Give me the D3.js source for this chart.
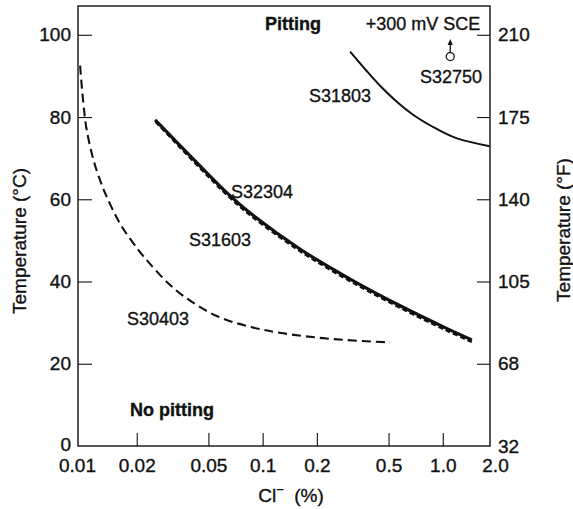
<!DOCTYPE html>
<html>
<head>
<meta charset="utf-8">
<script src="https://cdn.jsdelivr.net/npm/d3@7/dist/d3.min.js"></script>
<style>
  html, body { margin: 0; padding: 0; background: #fff; }
  svg { display: block; }
  text { font-family: "Liberation Sans", Arial, Helvetica, sans-serif; fill: #111; stroke: #111; stroke-width: 0.35px; }
</style>
</head>
<body>
<svg id="chart" width="573" height="509"></svg>
<script>
// Critical pitting temperature vs. chloride content for stainless grades

// Chloride axis ticks (%)
const clTicks = [0.01, 0.02, 0.05, 0.1, 0.2, 0.5, 1, 2];
const clTickLabels = ["0.01", "0.02", "0.05", "0.1", "0.2", "0.5", "1.0", "2.0"];

// Temperature ticks, Celsius on the left and matching Fahrenheit on the right
const tempTicksC = [0, 20, 40, 60, 80, 100];
const tempTickLabelsF = ["32", "68", "105", "140", "175", "210"];

// S30403 (dashed)
const s30403Cl   = [0.0097, 0.0101, 0.01055, 0.0115, 0.0125, 0.0136, 0.0162, 0.0204, 0.0237, 0.0294, 0.0363, 0.0556, 0.085, 0.13, 0.247, 0.51];
const s30403Temp = [92.5, 83.5, 76.9, 69.6, 64.7, 60.7, 54.0, 47.7, 44.3, 39.9, 36.5, 31.6, 29.0, 27.4, 26.0, 25.2];

// S32304 (heavy solid)
const s32304Cl   = [0.0253, 0.0449, 0.0643, 0.085, 0.161, 0.306, 0.58, 1.05, 1.45];
const s32304Temp = [79.3, 68.1, 61.3, 56.7, 47.9, 40.6, 34.1, 28.6, 25.8];

// S31603 (dashed, running just under S32304)
const s31603Cl   = [0.0255, 0.0449, 0.0643, 0.085, 0.161, 0.306, 0.58, 1.05, 1.45];
const s31603Temp = [78.8, 67.6, 60.8, 56.2, 47.4, 40.1, 33.6, 28.1, 25.3];

// S31803 (solid)
const s31803Cl   = [0.306, 0.378, 0.449, 0.556, 0.687, 0.926, 1.2, 1.82];
const s31803Temp = [95.9, 91.2, 87.6, 83.7, 80.5, 77.1, 74.8, 72.9];

// S32750: single point, no pitting up to +300 mV SCE
const s32750Cl   = [1.1];
const s32750Temp = [94.7];
const s32750ArrowTop = [99];

const svg = d3.select("#chart");
const FS = 18;    // annotation text
const TFS = 19;   // tick labels and axis titles

// Plot frame
const frame = { left: 78, right: 490, top: 6, bottom: 446 };

const x = d3.scaleLog().domain([0.01, 2]).range([82.5, 497]);
const y = d3.scaleLinear().domain([0, 107]).range([446, 6]);

// Frame
svg.append("rect")
  .attr("x", frame.left).attr("y", frame.top)
  .attr("width", frame.right - frame.left)
  .attr("height", frame.bottom - frame.top)
  .attr("fill", "none").attr("stroke", "#111").attr("stroke-width", 1.4);

// Left axis (°C)
const leftAxis = svg.append("g")
  .attr("transform", `translate(${frame.left},0)`)
  .call(d3.axisLeft(y).tickValues(tempTicksC).tickSizeInner(-14).tickSizeOuter(0).tickPadding(7));

// Right axis (°F)
const rightAxis = svg.append("g")
  .attr("transform", `translate(${frame.right},0)`)
  .call(d3.axisRight(y).tickValues(tempTicksC)
    .tickFormat((d, i) => tempTickLabelsF[i])
    .tickSizeInner(-13).tickSizeOuter(0).tickPadding(8));

// Bottom axis (Cl-)
const bottomAxis = svg.append("g")
  .attr("transform", `translate(0,${frame.bottom})`)
  .call(d3.axisBottom(x).tickValues(clTicks)
    .tickFormat((d, i) => clTickLabels[i])
    .tickSizeInner(-13).tickSizeOuter(0).tickPadding(12.5));

[leftAxis, rightAxis, bottomAxis].forEach(g => {
  g.select(".domain").remove();
  g.selectAll(".tick line").attr("stroke", "#111").attr("stroke-width", 1.1);
  g.selectAll(".tick text")
    .attr("font-size", TFS)
    .attr("font-family", "'Liberation Sans', Arial, sans-serif")
    .attr("fill", "#111");
});

// End ticks coincide with the frame
bottomAxis.selectAll(".tick").filter(d => d === 0.01 || d === 2).select("line").remove();
bottomAxis.selectAll(".tick").filter(d => d === 0.01).select("text").attr("dx", -5.5);
bottomAxis.selectAll(".tick").filter(d => d === 2).select("text").attr("dx", -2);
leftAxis.selectAll(".tick").filter(d => d === 0).select("line").remove();
rightAxis.selectAll(".tick").filter(d => d === 0).select("line").remove();
// Lift the corner "0" clear of the "0.01" label below it
leftAxis.selectAll(".tick").filter(d => d === 0).select("text").attr("y", -2);

// Curves
const line = d3.line()
  .x(d => x(d[0]))
  .y(d => y(d[1]))
  .curve(d3.curveCatmullRom.alpha(0.5));

const zip = (a, b) => a.map((v, i) => [v, b[i]]);

svg.append("path")
  .datum(zip(s30403Cl, s30403Temp))
  .attr("d", line)
  .attr("fill", "none").attr("stroke", "#111")
  .attr("stroke-width", 2.1).attr("stroke-dasharray", "9,5");

svg.append("path")
  .datum(zip(s31603Cl, s31603Temp))
  .attr("d", line)
  .attr("fill", "none").attr("stroke", "#111")
  .attr("stroke-width", 2.4).attr("stroke-dasharray", "5,3");

svg.append("path")
  .datum(zip(s32304Cl, s32304Temp))
  .attr("d", line)
  .attr("fill", "none").attr("stroke", "#111")
  .attr("stroke-width", 3.2).attr("stroke-linecap", "butt");

svg.append("path")
  .datum(zip(s31803Cl, s31803Temp))
  .attr("d", line)
  .attr("fill", "none").attr("stroke", "#111")
  .attr("stroke-width", 2);

// S32750 point with arrow
const px = x(s32750Cl[0]), py = y(s32750Temp[0]), pTop = y(s32750ArrowTop[0]);
svg.append("line")
  .attr("x1", px).attr("x2", px)
  .attr("y1", py - 4).attr("y2", pTop + 4)
  .attr("stroke", "#111").attr("stroke-width", 1.3);
svg.append("path")
  .attr("d", `M${px},${pTop} L${px - 2.6},${pTop + 6} L${px + 2.6},${pTop + 6} Z`)
  .attr("fill", "#111");
svg.append("circle")
  .attr("cx", px).attr("cy", py).attr("r", 4)
  .attr("fill", "#fff").attr("stroke", "#111").attr("stroke-width", 1.3);

// Curve labels and region notes
const notes = [
  { t: "+300 mV SCE", x: 423, y: 30, bold: false },
  { t: "Pitting", x: 293, y: 30, bold: true },
  { t: "S32750", x: 451, y: 83, bold: false },
  { t: "S31803", x: 340, y: 102, bold: false },
  { t: "S32304", x: 262, y: 198, bold: false },
  { t: "S31603", x: 220, y: 246, bold: false },
  { t: "S30403", x: 158, y: 325, bold: false },
  { t: "No pitting", x: 172, y: 416, bold: true }
];
svg.selectAll("text.note")
  .data(notes)
  .join("text")
  .attr("class", "note")
  .attr("x", d => d.x).attr("y", d => d.y)
  .attr("text-anchor", "middle")
  .attr("font-size", FS)
  .attr("font-weight", d => d.bold ? "bold" : "normal")
  .text(d => d.t);

// Axis titles
svg.append("text")
  .attr("transform", "translate(19.5,241) rotate(-90)")
  .attr("text-anchor", "middle").attr("dy", "0.35em")
  .attr("font-size", TFS)
  .text("Temperature (°C)");

svg.append("text")
  .attr("transform", "translate(563,230) rotate(-90)")
  .attr("text-anchor", "middle").attr("dy", "0.35em")
  .attr("font-size", TFS)
  .text("Temperature (°F)");

const xt = svg.append("text")
  .attr("x", 291).attr("y", 502)
  .attr("text-anchor", "middle")
  .attr("font-size", TFS);
xt.append("tspan").text("Cl");
xt.append("tspan").attr("dy", -8).attr("font-size", 13).text("−");
xt.append("tspan").attr("dy", 8).text("\u00a0 (%)");
</script>
</body>
</html>
